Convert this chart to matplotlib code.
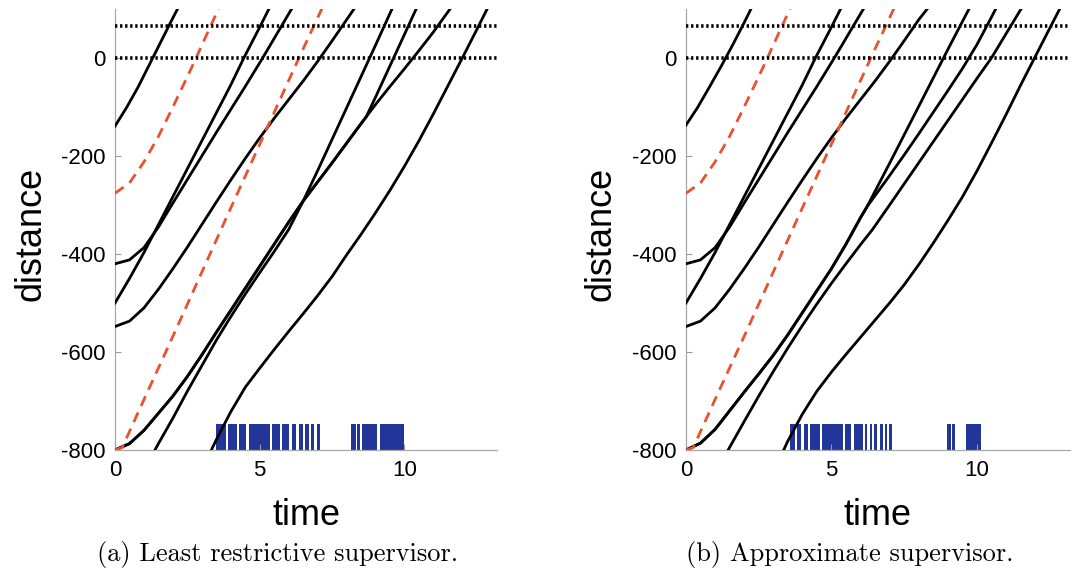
import matplotlib
matplotlib.use("Agg")
import matplotlib.pyplot as plt

# ---------------- data ----------------
x_ticks = [0, 5, 10]
y_ticks = [-800, -600, -400, -200, 0]
dotted_levels = [0, 65]

# Left panel: (a) Least restrictive supervisor
lA_t = [0, 0.4, 0.8, 1.2, 1.6, 2.0, 2.3]
lA_d = [-139, -101, -59, -12, 35, 82, 116]
lB1_t = [0, 0.5, 1.0, 1.5, 2.0, 2.5, 3.0, 3.5, 4.0, 4.45, 5.0, 5.35]
lB1_d = [-500, -450, -397, -340, -283, -226, -169, -112, -55, 0, 63, 104]
lB2_t = [0, 0.5, 1.0, 1.5, 2.0, 2.5, 3.0, 3.5, 4.0, 4.5, 5.1, 5.6, 6.15]
lB2_d = [-420, -412, -387, -345, -296, -248, -200, -152, -105, -58, 0, 50, 105]
lC_t = [0, 0.5, 1.0, 1.5, 2.0, 2.5, 3.0, 3.5, 4.0, 4.5, 5.0, 5.5, 6.0, 6.5, 7.0, 7.5, 8.0, 8.35]
lC_d = [-548, -537, -510, -472, -430, -386, -340, -294, -249, -205, -163, -123, -85, -47, -7, 35, 78, 108]
lD2_t = [0, 0.5, 1.0, 1.5, 2.0, 2.5, 3.0, 3.5, 4.0, 4.5, 5.0, 5.5, 6.0, 6.5, 7.0, 7.5, 8.0, 8.4, 8.68, 9.0, 9.5, 10.0, 10.45]
lD2_d = [-800, -787, -760, -725, -690, -650, -606, -560, -515, -470, -425, -380, -335, -292, -253, -214, -174, -142, -120, -80, -16, 48, 106]
lD3_t = [0, 0.5, 1.0, 1.5, 2.0, 2.5, 3.0, 3.5, 4.0, 4.5, 5.0, 5.5, 6.0, 6.5, 7.0, 7.5, 8.0, 8.4, 8.68, 9.0, 9.5, 10.0, 10.5, 11.0, 11.6]
lD3_d = [-800, -787, -760, -725, -690, -650, -606, -560, -515, -470, -425, -380, -335, -292, -253, -214, -174, -142, -120, -95, -58, -22, 15, 53, 102]
lD1_t = [1.38, 1.5, 2.0, 2.5, 3.0, 3.5, 4.0, 4.5, 5.0, 5.5, 6.0, 6.5, 7.0, 7.5, 8.0, 8.5, 9.0, 9.6]
lD1_d = [-800, -787, -735, -680, -628, -576, -528, -482, -438, -395, -350, -292, -230, -166, -102, -38, 26, 104]
lE_t = [3.33, 3.5, 4.0, 4.5, 5.0, 5.5, 6.0, 6.5, 7.0, 7.5, 8.0, 8.5, 9.0, 9.5, 10.0, 10.5, 11.0, 11.5, 12.0, 12.5, 12.9]
lE_d = [-800, -779, -722, -672, -633, -595, -558, -522, -485, -446, -402, -360, -316, -270, -221, -169, -114, -57, 0, 58, 105]
lR1_t = [0, 0.5, 1.0, 1.5, 2.0, 2.5, 2.8, 3.2, 3.65]
lR1_d = [-276, -255, -212, -160, -100, -38, 0, 52, 110]
lR2_t = [0, 0.25, 1.0, 2.0, 3.0, 4.0, 5.0, 6.0, 6.4, 7.3]
lR2_d = [-800, -795, -697, -568, -437, -306, -176, -46, 6, 120]
l_bar_start = [3.48, 3.91, 4.29, 4.62, 5.44, 5.76, 6.10, 6.36, 6.55, 6.76, 6.98, 8.16, 8.36, 8.53, 9.16]
l_bar_end = [3.85, 4.20, 4.54, 5.37, 5.69, 6.01, 6.26, 6.49, 6.70, 6.87, 7.07, 8.31, 8.47, 9.06, 9.97]

# Right panel: (b) Approximate supervisor
rA_t = [0, 0.4, 0.8, 1.2, 1.6, 2.0, 2.35]
rA_d = [-137, -101, -60, -18, 26, 72, 114]
rB1_t = [0, 0.5, 1.0, 1.5, 2.0, 2.5, 3.0, 3.5, 4.0, 4.45, 5.0, 5.35]
rB1_d = [-500, -450, -397, -340, -283, -226, -169, -112, -55, 0, 63, 104]
rB2_t = [0, 0.5, 1.0, 1.5, 2.0, 2.5, 3.0, 3.5, 4.0, 4.5, 5.1, 5.6, 6.15]
rB2_d = [-420, -412, -387, -345, -296, -248, -200, -152, -105, -58, 0, 50, 105]
rC_t = [0, 0.5, 1.0, 1.5, 2.0, 2.5, 3.0, 3.5, 4.0, 4.5, 5.0, 5.5, 6.0, 6.5, 7.0, 7.5, 8.0, 8.4]
rC_d = [-548, -537, -510, -472, -430, -386, -340, -294, -249, -205, -163, -123, -85, -47, -7, 35, 78, 108]
rD1_t = [0, 0.5, 1.0, 1.5, 2.0, 2.5, 3.0, 3.5, 4.0, 4.5, 5.0, 5.5, 6.0, 6.23, 6.5, 7.0, 7.5, 8.0, 8.5, 9.0, 9.5, 9.8]
rD1_d = [-800, -786, -758, -720, -682, -645, -607, -565, -520, -475, -430, -380, -326, -303, -272, -215, -157, -99, -41, 17, 74, 108]
rD2_t = [0, 0.5, 1.0, 1.5, 2.0, 2.5, 3.0, 3.5, 4.0, 4.5, 5.0, 5.5, 6.0, 6.23, 6.5, 7.0, 7.5, 8.0, 8.5, 9.0, 9.5, 10.0, 10.5, 10.7]
rD2_d = [-800, -786, -758, -720, -682, -645, -607, -565, -520, -475, -430, -380, -326, -303, -281, -240, -198, -155, -111, -67, -22, 27, 83, 106]
rD3_t = [1.45, 2.0, 2.5, 3.0, 3.5, 4.0, 4.5, 5.0, 5.5, 6.0, 6.4, 7.0, 8.0, 9.0, 10.0, 10.5, 11.0, 11.55]
rD3_d = [-800, -742, -690, -640, -592, -546, -502, -460, -420, -381, -351, -300, -214, -128, -42, 0, 49, 103]
rE_t = [3.36, 3.5, 4.0, 4.5, 5.0, 5.5, 6.0, 6.5, 7.0, 7.5, 8.0, 8.5, 9.0, 9.5, 10.0, 10.5, 11.0, 11.5, 12.0, 12.5, 12.9]
rE_d = [-800, -782, -727, -680, -641, -605, -570, -535, -500, -463, -422, -378, -332, -284, -231, -174, -116, -56, 2, 60, 106]
rR1_t = [0, 0.5, 1.0, 1.5, 2.0, 2.5, 2.8, 3.2, 3.65]
rR1_d = [-276, -255, -212, -160, -100, -38, 0, 52, 110]
rR2_t = [0, 0.25, 1.0, 2.0, 3.0, 4.0, 5.0, 6.0, 6.4, 7.3]
rR2_d = [-800, -795, -697, -568, -437, -306, -176, -46, 6, 120]
r_bar_start = [3.56, 3.82, 4.05, 4.28, 4.68, 5.48, 5.77, 6.15, 6.32, 6.48, 6.66, 6.83, 6.98, 8.99, 9.14, 9.62]
r_bar_end = [3.76, 3.96, 4.18, 4.60, 5.40, 5.69, 6.07, 6.23, 6.40, 6.58, 6.76, 6.92, 7.07, 9.10, 9.26, 10.14]

captions = ["(a) Least restrictive supervisor.", "(b) Approximate supervisor."]

# ---------------- drawing ----------------
BLUE = "#22369a"
RED = "#e8522c"
TICK_FONT = "Liberation Sans"

plt.rcParams["axes.unicode_minus"] = False

fig = plt.figure(figsize=(10.74, 5.81), dpi=100)
axL = fig.add_axes([0.1071, 0.2255, 0.3557, 0.759])
axR = fig.add_axes([0.6387, 0.2255, 0.3575, 0.759])


def draw_panel(ax, black, red, bar_start, bar_end):
    bars = [(s, e - s) for s, e in zip(bar_start, bar_end)]
    ax.broken_barh(bars, (-800, 53), facecolors=BLUE, edgecolor="none", zorder=1)
    for t, d in black:
        ax.plot(t, d, color="black", lw=2.0, zorder=3)
    for t, d in red:
        ax.plot(t, d, color=RED, lw=2.0, ls=(0, (3.8, 2.6)), zorder=4)
    for lvl in dotted_levels:
        ax.axhline(lvl, color="black", lw=2.6, ls=(0, (0.65, 0.75)), zorder=5)
    ax.set_xlim(0, 13.2)
    ax.set_ylim(-800, 100)
    ax.set_xticks(x_ticks)
    ax.set_yticks(y_ticks)
    ax.set_xticklabels([str(v) for v in x_ticks], fontfamily=TICK_FONT)
    ax.set_yticklabels([str(v) for v in y_ticks], fontfamily=TICK_FONT)
    ax.tick_params(direction="in", length=4, width=0.8, color="#9a9a9a",
                   labelsize=16, pad=7)
    for s in ("top", "right"):
        ax.spines[s].set_visible(False)
    for s in ("left", "bottom"):
        ax.spines[s].set_color("#a8a8a8")
        ax.spines[s].set_linewidth(0.9)
    ax.set_xlabel("time", fontsize=26, fontfamily=TICK_FONT)
    ax.set_ylabel("distance", fontsize=26, fontfamily=TICK_FONT)
    ax.xaxis.set_label_coords(0.5, -0.108)
    ax.yaxis.set_label_coords(-0.175, 0.49)


draw_panel(axL,
           [(lA_t, lA_d), (lB1_t, lB1_d), (lB2_t, lB2_d), (lC_t, lC_d),
            (lD1_t, lD1_d), (lD2_t, lD2_d), (lD3_t, lD3_d), (lE_t, lE_d)],
           [(lR1_t, lR1_d), (lR2_t, lR2_d)],
           l_bar_start, l_bar_end)
draw_panel(axR,
           [(rA_t, rA_d), (rB1_t, rB1_d), (rB2_t, rB2_d), (rC_t, rC_d),
            (rD1_t, rD1_d), (rD2_t, rD2_d), (rD3_t, rD3_d), (rE_t, rE_d)],
           [(rR1_t, rR1_d), (rR2_t, rR2_d)],
           r_bar_start, r_bar_end)

fig.text(0.258, 0.045, captions[0], ha="center", va="center",
         fontfamily="cmr10", fontsize=19)
fig.text(0.791, 0.045, captions[1], ha="center", va="center",
         fontfamily="cmr10", fontsize=19)

fig.savefig("out.png", dpi=100)
